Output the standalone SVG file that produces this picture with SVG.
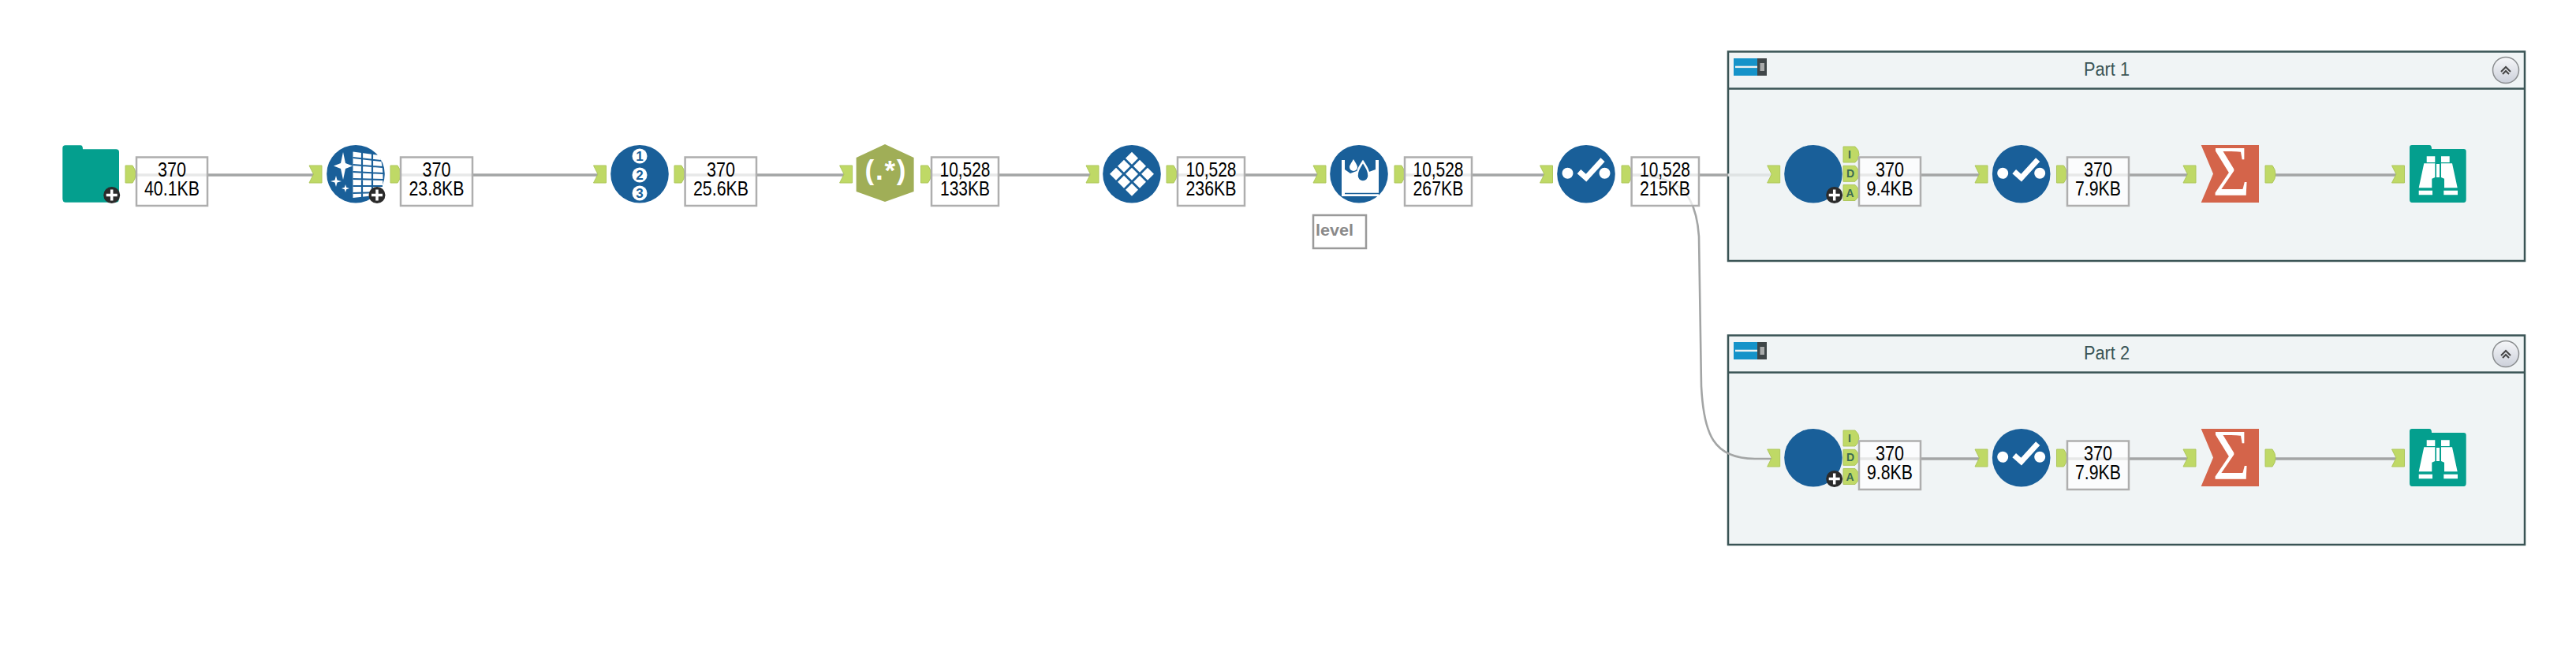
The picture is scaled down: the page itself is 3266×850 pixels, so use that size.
<svg xmlns="http://www.w3.org/2000/svg" width="3266" height="850" viewBox="0 0 3266 850">
<style>
text{font-family:"Liberation Sans",Arial,sans-serif}
.conn{fill:none;stroke:#a3a5a5;stroke-width:3.4}
.curve{fill:none;stroke:#a3a5a5;stroke-width:2.6}
.faint{fill:none;stroke:#dfe3e3;stroke-width:3.4}
.blue{fill:#195f99}
.box{fill:#fff;fill-opacity:.74;stroke:#aeaeae;stroke-width:2.5}
.n{font-size:25px;fill:#000;text-anchor:middle}
.anc{fill:#bfd966;stroke:#aec75c;stroke-width:1}
.ltr{font-size:14px;font-weight:bold;fill:#3b6b52;text-anchor:middle}
.cont{fill:#f0f4f5;stroke:#3a5455;stroke-width:2.5}
.title{font-size:23px;fill:#3a5455;text-anchor:middle}
.teal{fill:#049f8e}
.w{fill:#fff}
.ws{fill:none;stroke:#fff}
.dig{font-size:17px;font-weight:bold;fill:#195f99;text-anchor:middle}
.sig{font-size:90px;fill:#fff;text-anchor:middle;font-family:"Liberation Serif",serif}
</style>
<defs>
<linearGradient id="btn" x1="0" y1="0" x2="0" y2="1"><stop offset="0" stop-color="#f6f7f9"/><stop offset="1" stop-color="#ccd0da"/></linearGradient>
<path id="ain" class="anc" d="M0 -11H16V11H0L5.5 0Z"/>
<path id="aout" class="anc" d="M0 -11H9Q13 -6 13 0Q13 6 9 11H0Z"/>
<path id="aport" class="anc" d="M0 -10H15Q20 -6 20 0Q20 6 15 10H0Z"/>
<g id="badge"><circle r="10.5" fill="#2b2b2b"/><path d="M-7 0H7M0 -7V7" stroke="#fff" stroke-width="3.5" fill="none"/></g>
<g id="check"><circle r="36.8" class="blue"/><circle cx="-23.5" cy="-1" r="7" class="w"/><circle cx="23.5" cy="-1" r="7" class="w"/><path d="M-9 -3L0 5L21 -18" class="ws" stroke-width="7"/></g>
<path id="sigmashape" fill="#d4644a" d="M0 0H73.3V73H0L15.3 36.5Z"/>
<g id="browse">
<path class="teal" d="M3 0H25Q28 0 28 5H68.7Q71.7 5 71.7 8V69Q71.7 73 68.7 73H3Q0 73 0 69V3Q0 0 3 0Z"/>
<path class="w" d="M21.7 14.3H32.3V22H21.7ZM40 14.3H50.7V22H40ZM18.3 23.3H32.3V41L28.3 42.7V54.3H11.7ZM54 23.3H40V41L44 42.7V54.3H60.7ZM34 24H38V41H34ZM11.7 57.7H29V63.3H11.7ZM43.3 57.7H61V63.3H43.3Z"/>
</g>
<g id="collapse">
<rect width="30" height="22" fill="#1593c9"/><rect x="30" width="12" height="22" fill="#3f4648"/><rect x="2" y="9.7" width="28" height="2.4" fill="#eef2f2"/><rect x="33.5" y="6" width="5.5" height="10" fill="#a8aaaa"/>
</g>
<g id="btnup"><circle r="16.5" fill="url(#btn)" stroke="#8a8d8f" stroke-width="1.5"/><path d="M-6 2L0 -4L6 2M-4 5L0 1L4 5" fill="none" stroke="#444" stroke-width="2"/></g>
<path id="dia" class="w" d="M0 -8L8 0L0 8L-8 0Z"/>
</defs>

<g id="container-part-1">
<rect class="cont" x="2191" y="65.5" width="1010" height="265.5"/>
<path d="M2191 112.5H3201" stroke="#3a5455" stroke-width="2.5"/>
<use href="#collapse" x="2198" y="74"/>
<text class="title" x="2671" y="95.7" textLength="58" lengthAdjust="spacingAndGlyphs">Part 1</text>
<use href="#btnup" x="3177" y="89"/>
</g>
<g id="container-part-2">
<rect class="cont" x="2191" y="425.5" width="1010" height="265.5"/>
<path d="M2191 472.5H3201" stroke="#3a5455" stroke-width="2.5"/>
<use href="#collapse" x="2198" y="434"/>
<text class="title" x="2671" y="455.7" textLength="58" lengthAdjust="spacingAndGlyphs">Part 2</text>
<use href="#btnup" x="3177" y="449"/>
</g>

<g id="connectors">
<path class="conn" d="M170 222H398"/>
<path class="conn" d="M506 222H758"/>
<path class="conn" d="M866 222H1070"/>
<path class="conn" d="M1178 222H1382"/>
<path class="conn" d="M1490 222H1670"/>
<path class="conn" d="M1779 222H1958"/>
<path class="conn" d="M2066 222H2191"/>
<path class="faint" d="M2191 222H2246"/>
<path class="curve" d="M2066 222C2125 222 2150 240 2154 300L2157 490C2160 550 2172 582 2225 582H2246"/>
<path class="conn" d="M2355 222H2510"/>
<path class="conn" d="M2618 222H2774"/>
<path class="conn" d="M2884 222H3038"/>
<path class="conn" d="M2355 582H2510"/>
<path class="conn" d="M2618 582H2774"/>
<path class="conn" d="M2884 582H3038"/>
</g>

<g id="node-input">
<path class="teal" d="M83 184.3H102Q105 184.3 105 189.3H147Q151 189.3 151 193V252Q151 256.7 147 256.7H83Q79.3 256.7 79.3 252V188Q79.3 184.3 83 184.3Z"/>
<use href="#badge" x="141.7" y="247.5"/>
<use href="#aout" x="159" y="221"/>
<rect class="box" x="173" y="199.5" width="90" height="61.5"/>
<text class="n" x="218" y="224" textLength="36" lengthAdjust="spacingAndGlyphs">370</text>
<text class="n" x="218" y="248" textLength="70" lengthAdjust="spacingAndGlyphs">40.1KB</text>
</g>

<g id="node-cleanse">
<use href="#ain" x="392" y="221"/>
<circle cx="451" cy="220.7" r="36.8" class="blue"/>
<path class="w" d="M447.5 192.5L481 197Q488 215 484 247L447.5 251Z"/>
<path d="M447.5 200L483 204M447.5 209L485 212M447.5 218L486 220M447.5 227L486 228M447.5 236L485 236M447.5 245L484 244M459 193V251M472 195V249" stroke="#195f99" stroke-width="2.2" fill="none"/>
<path class="w" d="M435 193L438 207L447 210.5L438 214L435 228L432 214L423 210.5L432 207Z"/>
<path class="w" d="M426 223L427.5 228.5L433 230L427.5 231.5L426 237L424.5 231.5L419 230L424.5 228.5Z"/>
<path class="w" d="M438 234L439.2 237.8L443 239L439.2 240.2L438 244L436.8 240.2L433 239L436.8 237.8Z"/>
<use href="#badge" x="478" y="247.5"/>
<use href="#aout" x="495" y="221"/>
<rect class="box" x="508" y="199.5" width="91" height="61.5"/>
<text class="n" x="553.5" y="224" textLength="36" lengthAdjust="spacingAndGlyphs">370</text>
<text class="n" x="553.5" y="248" textLength="70" lengthAdjust="spacingAndGlyphs">23.8KB</text>
</g>

<g id="node-recordid">
<use href="#ain" x="752.5" y="221"/>
<circle cx="811" cy="220.7" r="36.8" class="blue"/>
<circle cx="811" cy="198" r="9.5" class="w"/><text class="dig" x="811" y="204">1</text>
<circle cx="811" cy="222" r="9.5" class="w"/><text class="dig" x="811" y="228">2</text>
<circle cx="811" cy="245" r="9.5" class="w"/><text class="dig" x="811" y="251">3</text>
<use href="#aout" x="855" y="221"/>
<rect class="box" x="868.6" y="199.5" width="90.4" height="61.5"/>
<text class="n" x="914" y="224" textLength="36" lengthAdjust="spacingAndGlyphs">370</text>
<text class="n" x="914" y="248" textLength="70" lengthAdjust="spacingAndGlyphs">25.6KB</text>
</g>

<g id="node-regex">
<use href="#ain" x="1064.6" y="221"/>
<path fill="#a0ae57" d="M1122 183L1158.6 200V243L1122 256L1085.6 243V200Z"/>
<text x="1122.5" y="228" font-size="35" font-weight="bold" fill="#fff" text-anchor="middle" textLength="52">(.*)</text>
<use href="#aout" x="1167.5" y="221"/>
<rect class="box" x="1181" y="199.5" width="85" height="61.5"/>
<text class="n" x="1223.5" y="224" textLength="64" lengthAdjust="spacingAndGlyphs">10,528</text>
<text class="n" x="1223.5" y="248" textLength="63" lengthAdjust="spacingAndGlyphs">133KB</text>
</g>

<g id="node-transpose">
<use href="#ain" x="1377" y="221"/>
<circle cx="1435" cy="220.7" r="36.8" class="blue"/>
<use href="#dia" x="1435" y="200.7"/><use href="#dia" x="1425" y="210.7"/><use href="#dia" x="1445" y="210.7"/>
<use href="#dia" x="1415" y="220.7"/><use href="#dia" x="1435" y="220.7"/><use href="#dia" x="1455" y="220.7"/>
<use href="#dia" x="1425" y="230.7"/><use href="#dia" x="1445" y="230.7"/><use href="#dia" x="1435" y="240.7"/>
<use href="#aout" x="1479" y="221"/>
<rect class="box" x="1493" y="199.5" width="85" height="61.5"/>
<text class="n" x="1535.5" y="224" textLength="64" lengthAdjust="spacingAndGlyphs">10,528</text>
<text class="n" x="1535.5" y="248" textLength="64" lengthAdjust="spacingAndGlyphs">236KB</text>
</g>

<g id="node-multifill">
<use href="#ain" x="1665" y="221"/>
<circle cx="1723" cy="220.7" r="36.8" class="blue"/>
<path class="w" d="M1701 203H1705V215L1712 220L1720 217L1733 219L1744 215V203H1748V249H1701Z"/>
<path d="M1705 245.5H1748" stroke="#195f99" stroke-width="1.6"/>
<path class="w" d="M1716 202C1719 207 1721 210 1721 212A5 5 0 0 1 1711 212C1711 210 1713 207 1716 202Z"/>
<path class="blue" stroke="#fff" stroke-width="2.5" d="M1728 205C1733 213 1735.5 217 1735.5 223A7.5 7.5 0 0 1 1720.5 223C1720.5 217 1723 213 1728 205Z"/>
<use href="#aout" x="1768" y="221"/>
<rect class="box" x="1781" y="199.5" width="85" height="61.5"/>
<text class="n" x="1823.5" y="224" textLength="64" lengthAdjust="spacingAndGlyphs">10,528</text>
<text class="n" x="1823.5" y="248" textLength="64" lengthAdjust="spacingAndGlyphs">267KB</text>
</g>

<g id="note-level">
<rect x="1665" y="273" width="67" height="42" fill="#fff" stroke="#9a9a9a" stroke-width="2.5"/>
<text x="1668" y="299.3" font-size="21" font-weight="bold" fill="#8a8a8a" textLength="48" lengthAdjust="spacingAndGlyphs">level</text>
</g>

<g id="node-select">
<use href="#ain" x="1952.5" y="221"/>
<use href="#check" x="2011" y="220.7"/>
<use href="#aout" x="2056" y="221"/>
<rect class="box" x="2068.6" y="199.5" width="85.4" height="61.5"/>
<text class="n" x="2111" y="224" textLength="64" lengthAdjust="spacingAndGlyphs">10,528</text>
<text class="n" x="2111" y="248" textLength="64" lengthAdjust="spacingAndGlyphs">215KB</text>
</g>

<g id="p1-join">
<use href="#ain" x="2240.7" y="221"/>
<circle cx="2299" cy="220.7" r="36.8" class="blue"/>
<use href="#aport" x="2337" y="196"/><text class="ltr" x="2345" y="201">I</text>
<use href="#aport" x="2337" y="220.3"/><text class="ltr" x="2346" y="225.3">D</text>
<use href="#aport" x="2337" y="244.5"/><text class="ltr" x="2345.5" y="249.5">A</text>
<use href="#badge" x="2325.7" y="247.5"/>
<rect class="box" x="2357" y="199.5" width="78" height="61.5"/>
<text class="n" x="2396" y="224" textLength="36" lengthAdjust="spacingAndGlyphs">370</text>
<text class="n" x="2396" y="248" textLength="59" lengthAdjust="spacingAndGlyphs">9.4KB</text>
</g>
<g id="p1-select">
<use href="#ain" x="2504" y="221"/>
<use href="#check" x="2562.7" y="220.7"/>
<use href="#aout" x="2607.5" y="221"/>
<rect class="box" x="2621" y="199.5" width="78" height="61.5"/>
<text class="n" x="2660" y="224" textLength="36" lengthAdjust="spacingAndGlyphs">370</text>
<text class="n" x="2660" y="248" textLength="58" lengthAdjust="spacingAndGlyphs">7.9KB</text>
</g>
<g id="p1-summarize">
<use href="#ain" x="2768" y="221"/>
<use href="#sigmashape" x="2790.7" y="184"/>
<text class="sig" x="2829" y="248" textLength="47" lengthAdjust="spacingAndGlyphs">Σ</text>
<use href="#aout" x="2872" y="221"/>
</g>
<g id="p1-browse">
<use href="#ain" x="3032.5" y="221"/>
<use href="#browse" x="3055" y="184"/>
</g>

<g id="p2-join">
<use href="#ain" x="2240.7" y="581"/>
<circle cx="2299" cy="580.7" r="36.8" class="blue"/>
<use href="#aport" x="2337" y="556"/><text class="ltr" x="2345" y="561">I</text>
<use href="#aport" x="2337" y="580.3"/><text class="ltr" x="2346" y="585.3">D</text>
<use href="#aport" x="2337" y="604.5"/><text class="ltr" x="2345.5" y="609.5">A</text>
<use href="#badge" x="2325.7" y="607.5"/>
<rect class="box" x="2357" y="559.5" width="78" height="61.5"/>
<text class="n" x="2396" y="584" textLength="36" lengthAdjust="spacingAndGlyphs">370</text>
<text class="n" x="2396" y="608" textLength="58" lengthAdjust="spacingAndGlyphs">9.8KB</text>
</g>
<g id="p2-select">
<use href="#ain" x="2504" y="581"/>
<use href="#check" x="2562.7" y="580.7"/>
<use href="#aout" x="2607.5" y="581"/>
<rect class="box" x="2621" y="559.5" width="78" height="61.5"/>
<text class="n" x="2660" y="584" textLength="36" lengthAdjust="spacingAndGlyphs">370</text>
<text class="n" x="2660" y="608" textLength="58" lengthAdjust="spacingAndGlyphs">7.9KB</text>
</g>
<g id="p2-summarize">
<use href="#ain" x="2768" y="581"/>
<use href="#sigmashape" x="2790.7" y="544"/>
<text class="sig" x="2829" y="608" textLength="47" lengthAdjust="spacingAndGlyphs">Σ</text>
<use href="#aout" x="2872" y="581"/>
</g>
<g id="p2-browse">
<use href="#ain" x="3032.5" y="581"/>
<use href="#browse" x="3055" y="544"/>
</g>
</svg>
